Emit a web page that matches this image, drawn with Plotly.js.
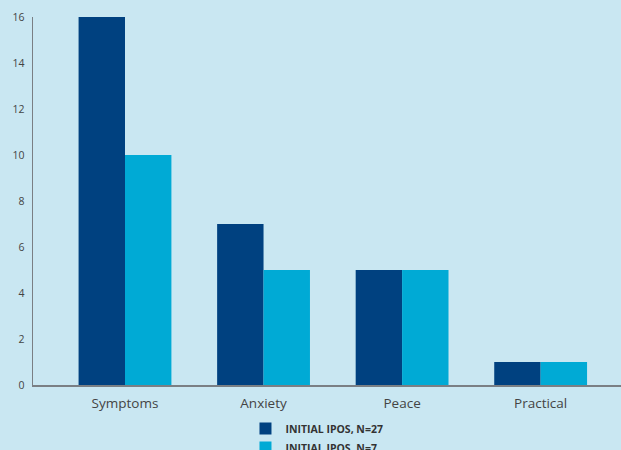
<!DOCTYPE html>
<html><head><meta charset="utf-8">
<script src="https://cdn.plot.ly/plotly-3.0.1.min.js"></script>
<style>body{margin:0;background:#c9e7f2}</style>
</head><body>
<div id="chart" style="width:621px;height:450px"></div>
<script>
var categories = ["Symptoms", "Anxiety", "Peace", "Practical"];
var seriesNames = ["INITIAL IPOS, N=27", "INITIAL IPOS, N=7"];
var series27 = [16, 7, 5, 1];
var series7 = [10, 5, 5, 1];
var yTicks = [0, 2, 4, 6, 8, 10, 12, 14, 16];

var data = [
  {type: "bar", x: categories, y: series27, name: seriesNames[0], marker: {color: "#004180"}},
  {type: "bar", x: categories, y: series7, name: seriesNames[1], marker: {color: "#00aad5"}}
];
var layout = {
  width: 621, height: 450,
  paper_bgcolor: "#c9e7f2", plot_bgcolor: "#c9e7f2",
  margin: {l: 33, r: 0, t: 17, b: 65, autoexpand: false},
  barmode: "group", bargap: 0.33, bargroupgap: 0,
  font: {family: "'Open Sans', sans-serif", color: "#444"},
  xaxis: {range: [-0.664, 3.58], showline: true, linecolor: "#7a7f84", linewidth: 1.5, tickangle: 0,
          automargin: false, ticklabelstandoff: 5,
          showgrid: false, zeroline: false, ticks: "", tickfont: {size: 13.5, color: "#444"}, fixedrange: true},
  yaxis: {range: [0, 16], tickvals: yTicks, showline: true, linecolor: "#7a7f84", linewidth: 1.5,
          automargin: false, ticklabelstandoff: 5,
          showgrid: false, zeroline: false, ticks: "", tickfont: {size: 10.5, color: "#444"}, fixedrange: true},
  showlegend: true,
  legend: {orientation: "v", xref: "container", yref: "container", x: 0.3953, y: 0.08,
           xanchor: "left", yanchor: "top", bgcolor: "rgba(0,0,0,0)",
           font: {size: 10.5, color: "#333", family: "'Open Sans', sans-serif", weight: "bold"},
           tracegroupgap: 0}
};
Plotly.newPlot("chart", data, layout, {displayModeBar: false, staticPlot: true});
</script>
</body></html>
